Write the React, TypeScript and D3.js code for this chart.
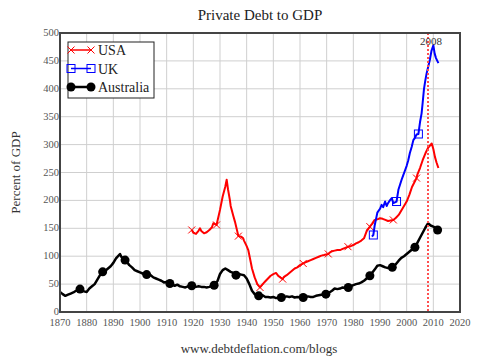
import * as d3 from 'd3';

// Australia (black) : year / percent of GDP
const ausYears = [1870, 1871, 1872, 1873, 1874, 1875, 1876, 1877.5, 1879, 1880, 1881, 1882, 1883, 1884, 1885, 1886, 1887, 1888, 1889, 1890, 1891, 1892.5, 1893, 1894.4, 1895, 1896, 1897, 1898, 1899, 1900, 1901, 1902.5, 1904, 1905, 1906, 1907, 1908, 1909, 1910, 1911.2, 1912, 1913, 1914, 1915, 1916, 1917, 1918, 1919.4, 1921, 1922, 1923, 1924, 1925, 1926, 1927.8, 1929, 1930, 1931, 1932, 1933, 1934, 1935, 1936, 1937, 1938, 1939, 1940, 1941, 1942, 1943, 1944.5, 1946, 1947, 1948, 1949, 1950, 1951, 1953, 1954, 1955, 1956, 1957, 1958, 1959, 1961.2, 1962, 1963, 1964, 1965, 1966, 1967, 1968, 1969.7, 1971, 1972, 1973, 1974, 1975, 1976, 1977, 1978.1, 1979, 1980, 1981, 1982, 1983, 1984, 1985, 1986.2, 1987, 1988, 1989, 1990, 1991, 1992, 1993, 1994.6, 1996, 1997, 1998, 1999, 2000, 2001, 2002, 2003.1, 2004, 2005, 2006, 2007, 2008, 2009, 2010, 2011, 2011.6];
const ausValues = [36, 32, 29, 31, 33, 35, 38, 41, 37, 36, 42, 46, 50, 58, 66, 72, 74, 78, 82, 88, 96, 104, 99, 93, 90, 84, 80, 75, 73, 71, 69, 67, 66, 62, 60, 58, 56, 53, 54, 51, 49, 47, 49, 46, 45, 44, 46, 47, 45, 46, 45, 45, 44, 45, 48, 55, 68, 75, 78, 75, 72, 70, 66, 68, 67, 66, 60, 50, 38, 32, 29, 30, 27, 27, 26, 27, 25, 26, 27, 28, 27, 28, 26, 27, 26, 27, 28, 27, 27, 29, 30, 31, 32, 35, 38, 42, 41, 42, 44, 43, 44, 46, 48, 50, 51, 53, 56, 60, 65, 70, 76, 83, 84, 82, 80, 79, 80, 86, 92, 97, 100, 104, 108, 112, 116, 124, 133, 142, 151, 159, 155, 153, 150, 147];
const ausMarkers = [1877.5, 1886, 1894.4, 1902.5, 1911.2, 1919.4, 1927.8, 1936, 1944.5, 1953, 1961.2, 1969.7, 1978.1, 1986.2, 1994.6, 2003.1, 2011.6];

// USA (red)
const usaYears = [1919.4, 1920, 1921, 1922, 1922.5, 1923, 1924, 1925, 1926, 1927, 1927.5, 1928.7, 1929, 1930, 1931, 1932, 1932.5, 1933, 1933.7, 1934, 1935, 1935.6, 1936.9, 1938, 1938.7, 1939, 1940, 1940.6, 1941.5, 1942, 1943, 1944, 1945, 1946, 1947, 1948, 1949, 1950, 1951, 1952, 1953.5, 1954, 1955, 1956, 1957, 1958, 1959, 1960, 1961.2, 1962, 1963, 1964, 1965, 1966, 1967, 1968, 1969, 1970.6, 1971, 1972, 1973, 1974, 1975, 1976, 1977, 1978, 1979, 1980, 1981, 1982, 1983, 1984, 1985, 1986.2, 1987, 1988, 1989, 1990, 1991, 1992, 1993, 1995, 1996, 1997, 1998, 1999, 2000, 2001, 2002, 2003.7, 2004, 2005, 2006, 2007, 2008, 2009.4, 2010, 2010.6, 2011.2, 2011.9];
const usaValues = [147, 142, 140, 146, 150, 145, 141, 143, 147, 152, 159, 156, 162, 183, 207, 225, 237, 220, 201, 190, 172, 162, 136, 135, 132, 128, 118, 111, 90, 78, 62, 50, 44, 50, 55, 60, 65, 68, 70, 64, 59, 63, 66, 70, 74, 78, 80, 84, 87, 89, 91, 93, 95, 97, 99, 101, 102, 104, 106, 109, 110, 111, 111, 113, 115, 117, 118, 120, 123, 125, 128, 132, 145, 153, 158, 165, 166, 168, 167, 165, 163, 165, 169, 174, 182, 190, 198, 210, 224, 240, 246, 258, 272, 284, 294, 302, 292, 278, 268, 258];
const usaMarkers = [1919.4, 1928.7, 1936.9, 1945, 1953.5, 1961.2, 1970.6, 1978, 1986.2, 1995, 2003.7];

// UK (blue)
const ukYears = [1987, 1987.5, 1988, 1988.7, 1989, 1990, 1990.6, 1991.2, 1991.9, 1992.5, 1993, 1993.7, 1994.4, 1995, 1996.2, 1996.9, 1997.5, 1998.1, 1998.7, 1999.4, 2000, 2000.6, 2001.2, 2001.9, 2002.5, 2003.1, 2003.7, 2004.4, 2005, 2005.6, 2006, 2006.5, 2007, 2007.5, 2008.1, 2008.7, 2009.3, 2010, 2010.5, 2011, 2011.9];
const ukValues = [135, 138, 155, 171, 178, 185, 192, 188, 198, 190, 195, 200, 204, 195, 198, 219, 228, 237, 245, 254, 262, 272, 285, 296, 308, 312, 318, 319, 340, 356, 375, 400, 415, 428, 440, 452, 468, 478, 463, 455, 446];
const ukMarkers = [1987.5, 1996.2, 2004.4];

const xTicks = d3.range(1870, 2021, 10);
const yTicks = d3.range(0, 501, 50);
const crisisYear = 2008;

const W = 480;
const H = 360;
const margin = { top: 33, right: 20, bottom: 48, left: 60 };
const FONT = '"Liberation Serif", "Times New Roman", serif';

const x = d3.scaleLinear().domain([1870, 2020]).range([margin.left, W - margin.right]);
const y = d3.scaleLinear().domain([0, 500]).range([H - margin.bottom, margin.top]);

type Pt = { year: number; value: number };
const zip = (ys: number[], vs: number[]): Pt[] => ys.map((yr, i) => ({ year: yr, value: vs[i] }));

const line = d3.line<Pt>().x(d => x(d.year)).y(d => y(d.value));

function pick(data: Pt[], years: number[]) {
  return years.map(yr => data.find(d => d.year === yr)).filter(Boolean) as Pt[];
}

function Cross({ cx, cy, color }: { cx: number; cy: number; color: string }) {
  const s = 3.5;
  return (
    <path d={`M${cx - s},${cy - s}L${cx + s},${cy + s}M${cx - s},${cy + s}L${cx + s},${cy - s}`}
      stroke={color} strokeWidth={1} fill="none" />
  );
}

function Square({ cx, cy, color }: { cx: number; cy: number; color: string }) {
  return <rect x={cx - 4} y={cy - 4} width={8} height={8} fill="none" stroke={color} strokeWidth={1} />;
}

export default function App() {
  const aus = zip(ausYears, ausValues);
  const usa = zip(usaYears, usaValues);
  const uk = zip(ukYears, ukValues);
  const x0 = margin.left, x1 = W - margin.right;
  const y0 = H - margin.bottom, y1 = margin.top;

  const legend = [
    { label: 'USA', color: '#ff0000', kind: 'cross' },
    { label: 'UK', color: '#0000ff', kind: 'square' },
    { label: 'Australia', color: '#000000', kind: 'dot' },
  ];

  return (
    <svg width={W} height={H} style={{ position: 'absolute', left: 0, top: 0, background: '#fff' }} fontFamily={FONT}>
      <text x={260} y={20} textAnchor="middle" fontSize={15} fill="#222">Private Debt to GDP</text>

      {/* grid */}
      {xTicks.map(t => (
        <line key={'gx' + t} x1={x(t)} x2={x(t)} y1={y1} y2={y0} stroke="#cfcfcf" strokeWidth={1} />
      ))}
      {yTicks.map(t => (
        <line key={'gy' + t} x1={x0} x2={x1} y1={y(t)} y2={y(t)} stroke="#cfcfcf" strokeWidth={1} />
      ))}

      {/* series */}
      <path d={line(aus) || ''} fill="none" stroke="#000" strokeWidth={2.5} strokeLinejoin="round" />
      {pick(aus, ausMarkers).map((d, i) => (
        <circle key={'a' + i} cx={x(d.year)} cy={y(d.value)} r={4.5} fill="#000" />
      ))}
      <path d={line(usa) || ''} fill="none" stroke="#ff0000" strokeWidth={2} strokeLinejoin="round" />
      {pick(usa, usaMarkers).map((d, i) => (
        <Cross key={'u' + i} cx={x(d.year)} cy={y(d.value)} color="#ff0000" />
      ))}
      <path d={line(uk) || ''} fill="none" stroke="#0000ff" strokeWidth={2} strokeLinejoin="round" />
      {pick(uk, ukMarkers).map((d, i) => (
        <Square key={'k' + i} cx={x(d.year)} cy={y(d.value)} color="#0000ff" />
      ))}

      {/* 2008 marker */}
      <line x1={x(crisisYear)} x2={x(crisisYear)} y1={y1} y2={y0} stroke="#ff5050" strokeWidth={2} strokeDasharray="2,2" />
      <text x={x(crisisYear) + 3} y={45} textAnchor="middle" fontSize={11} fill="#333">{crisisYear}</text>

      {/* frame */}
      <rect x={x0} y={y1} width={x1 - x0} height={y0 - y1} fill="none" stroke="#444" strokeWidth={2} />

      {/* tick labels */}
      {xTicks.map(t => (
        <text key={'tx' + t} x={x(t)} y={y0 + 14} textAnchor="middle" fontSize={10.5} fill="#555">{t}</text>
      ))}
      {yTicks.map(t => (
        <text key={'ty' + t} x={x0 - 1} y={y(t) + 3} textAnchor="end" fontSize={10.5} fill="#555">{t}</text>
      ))}

      <text transform={`translate(20,${(y0 + y1) / 2}) rotate(-90)`} textAnchor="middle" fontSize={13} fill="#333">Percent of GDP</text>

      {/* legend */}
      <rect x={68} y={42} width={86} height={56} fill="#fff" stroke="#222" strokeWidth={1} />
      {legend.map((l, i) => {
        const ly = 50 + i * 18.5;
        return (
          <g key={l.label}>
            <line x1={71} x2={91} y1={ly} y2={ly} stroke={l.color} strokeWidth={l.kind === 'dot' ? 2.5 : 1.5} />
            {[71, 91].map(px => l.kind === 'cross'
              ? <Cross key={px} cx={px} cy={ly} color={l.color} />
              : l.kind === 'square'
                ? <Square key={px} cx={px} cy={ly} color={l.color} />
                : <circle key={px} cx={px} cy={ly} r={4.5} fill={l.color} />)}
            <text x={98} y={ly + 5} fontSize={14} fill="#222">{l.label}</text>
          </g>
        );
      })}

      <text x={259} y={353} textAnchor="middle" fontSize={13} fill="#333">www.debtdeflation.com/blogs</text>
    </svg>
  );
}
